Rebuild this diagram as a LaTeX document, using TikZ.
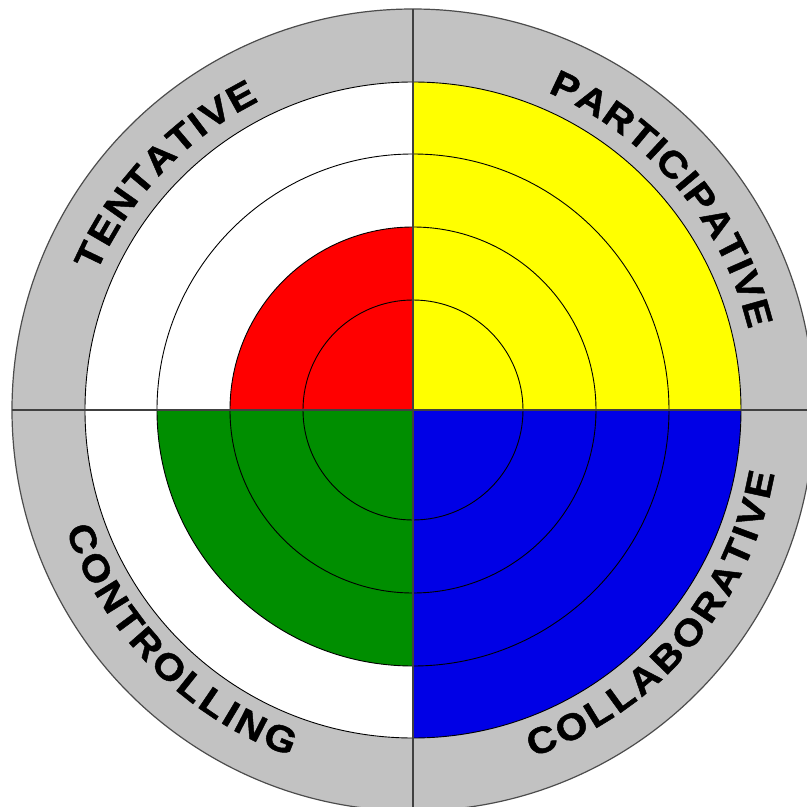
\documentclass[tikz,border=0pt]{standalone}
\usepackage{fontspec}
\setmainfont{Liberation Sans}
\newfontfamily\ringfam{Liberation Sans}[FakeStretch=1.1, BoldFeatures={FakeBold=1.3}]
\usetikzlibrary{decorations.text}
\definecolor{ringgrey}{RGB}{194,194,194}
\definecolor{qyellow}{RGB}{255,255,0}
\definecolor{qred}{RGB}{255,0,0}
\definecolor{qgreen}{RGB}{0,142,0}
\definecolor{qblue}{RGB}{0,0,230}
\newcommand\ringfont{\ringfam\fontsize{37}{37}\selectfont\bfseries}
\begin{document}
\begin{tikzpicture}[x=1pt,y=1pt,
  circ/.style={draw=black, line width=0.9pt},
  axisline/.style={draw=black!75, line width=1.6pt},
  arclabel/.style={decorate, decoration={text along path, text align={fit to path}, text={|\ringfont|#1}}}]
\useasboundingbox (-413,-397) rectangle (394,410);
\clip (-413,-397) rectangle (394,410);
\fill[white] (-413,-397) rectangle (394,410);
% grey ring and white inner disc
\fill[ringgrey] (0,0) circle[radius=401pt];
\fill[white] (0,0) circle[radius=328pt];
% coloured quadrants
\fill[qyellow] (0,0) -- (0:328pt) arc[start angle=0, end angle=90, radius=328pt] -- cycle;
\fill[qred] (0,0) -- (90:183pt) arc[start angle=90, end angle=180, radius=183pt] -- cycle;
\fill[qgreen] (0,0) -- (180:256pt) arc[start angle=180, end angle=270, radius=256pt] -- cycle;
\fill[qblue] (0,0) -- (270:328pt) arc[start angle=270, end angle=360, radius=328pt] -- cycle;
% concentric circles
\draw[circ] (0,0) circle[radius=110pt];
\draw[circ] (0,0) circle[radius=183pt];
\draw[circ] (0,0) circle[radius=256pt];
\draw[circ] (0,0) circle[radius=328pt];
\draw[draw=black!70, line width=1.2pt] (0,0) circle[radius=401pt];
% axes
\coordinate (top) at (90:401pt);
\coordinate (bottom) at (270:401pt);
\coordinate (left) at (180:401pt);
\coordinate (right) at (0:401pt);
\draw[axisline] (top) -- (bottom);
\draw[axisline] (left) -- (right);
% labels
\path[arclabel=TENTATIVE] (156.5:345pt) arc[start angle=156.5, end angle=116.5, radius=345pt];
\path[arclabel=PARTICIPATIVE] (67:345pt) arc[start angle=67, end angle=13.5, radius=345pt];
\path[arclabel=COLLABORATIVE] (-71:367pt) arc[start angle=-71, end angle=-10, radius=367pt];
\path[arclabel=CONTROLLING] (199:367pt) arc[start angle=199, end angle=250.5, radius=367pt];
\end{tikzpicture}
\end{document}
